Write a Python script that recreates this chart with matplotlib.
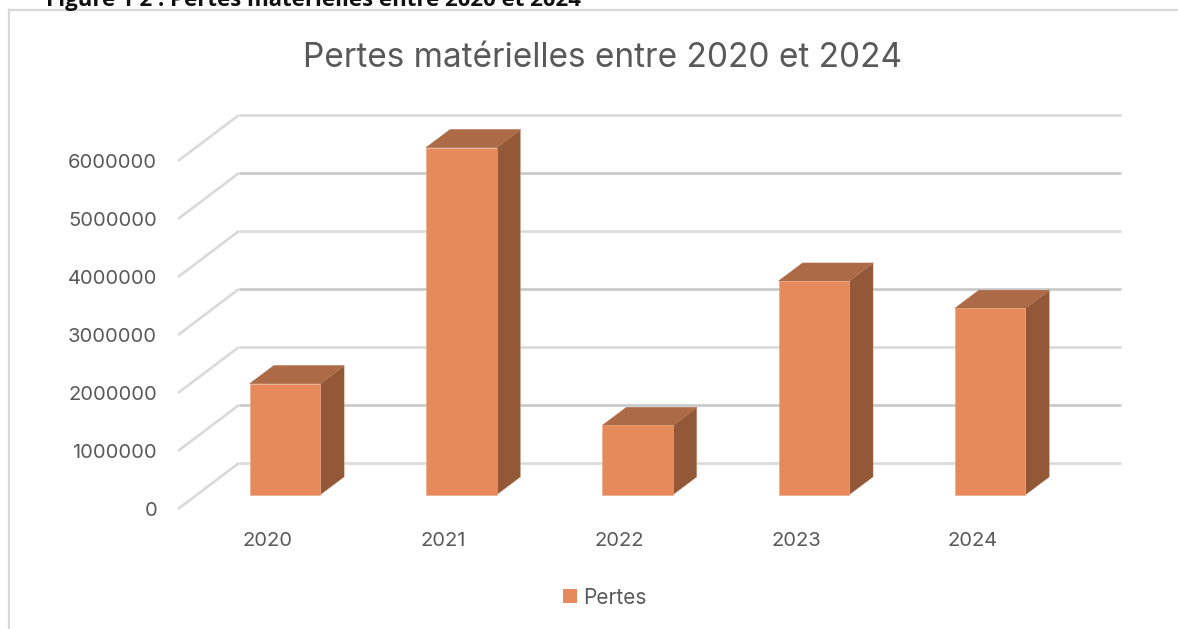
import matplotlib
matplotlib.use("Agg")
import matplotlib.pyplot as plt
from matplotlib.patches import Polygon, Rectangle
from matplotlib.lines import Line2D

W, H = 1178, 629
years = ["2020", "2021", "2022", "2023", "2024"]
pertes = [1920000, 5990000, 1200000, 3690000, 3220000]
ticks = [0, 1000000, 2000000, 3000000, 4000000, 5000000, 6000000]
tick_labels = ["0", "1000000", "2000000", "3000000", "4000000", "5000000", "6000000"]
gold = "#E68A5C"
top_c = "#AD6A47"
side_c = "#925838"
text_c = "#595959"

plt.rcParams["font.family"] = ["Inter", "DejaVu Sans"]
fig = plt.figure(figsize=(W / 100, H / 100), dpi=100)
fig.patch.set_facecolor("white")

# chart frame (top and left edges only are visible) and clipped caption
fig.add_artist(Line2D([8.5 / W, 8.5 / W], [0, 1 - 10 / H], color="#D9D9D9", lw=1.6))
fig.add_artist(Line2D([8.5 / W, 1], [1 - 10 / H, 1 - 10 / H], color="#D9D9D9", lw=1.6))
fig.text(46 / W, 1 - 6 / H, "Figure 1 2 : Pertes matérielles entre 2020 et 2024", fontsize=16,
         fontweight="bold", family=["Open Sans", "DejaVu Sans"], color="#111111", ha="left", va="baseline")

PX_X0, PX_X1, PX_Y0, PX_Y1 = 178, 1121, 509, 115
ax = fig.add_axes([PX_X0 / W, 1 - PX_Y0 / H, (PX_X1 - PX_X0) / W, (PX_Y0 - PX_Y1) / H])
PER_CAT = 176.3
PER_VAL = 58 / 1e6
x_at_178 = -(285 - PX_X0) / PER_CAT
ax.set_xlim(x_at_178, x_at_178 + (PX_X1 - PX_X0) / PER_CAT)
y_at_509 = -(PX_Y0 - 495) / PER_VAL
ax.set_ylim(y_at_509, y_at_509 + (PX_Y0 - PX_Y1) / PER_VAL)
ax.axis("off")

# depth offsets, expressed in data units
bar_w = 70.5 / PER_CAT
dx = 24 / PER_CAT
dy = 18 / PER_VAL
back_dy = 32 / PER_VAL
front_dy = -14 / PER_VAL
wall_x = x_at_178 + 61 / PER_CAT
x_end = ax.get_xlim()[1]

for i, v in enumerate(ticks):
    c = "#C8C8C8" if i % 2 == 1 else "#DADADA"
    ax.plot([x_at_178, wall_x], [v + front_dy, v + back_dy], color="#D9D9D9", lw=1.9, zorder=1,
            solid_capstyle="butt", clip_on=False)
    ax.plot([wall_x, x_end], [v + back_dy, v + back_dy], color=c, lw=1.9, zorder=1,
            solid_capstyle="butt", clip_on=False)
    ax.text(x_at_178 - 21 / PER_CAT, v + front_dy - 2 / PER_VAL, tick_labels[i], ha="right",
            va="center", fontsize=14.5, color=text_c, clip_on=False)

for i, v in enumerate(pertes):
    l, r = i - bar_w / 2, i + bar_w / 2
    ax.add_patch(Polygon([(r, 0), (r + dx, dy), (r + dx, v + dy), (r, v)], fc=side_c, ec="#D9BFB0",
                         lw=0.3, zorder=3))
    ax.add_patch(Polygon([(l, v), (l + dx, v + dy), (r + dx, v + dy), (r, v)], fc=top_c, ec=top_c,
                         lw=0.4, zorder=3))
    ax.add_patch(Rectangle((l, 0), bar_w, v, fc=gold, ec="#EAA583", lw=0.4, zorder=4))
    ax.text(i - 18 / PER_CAT, -46 / PER_VAL, years[i], ha="center", va="center", fontsize=14.5,
            color=text_c, clip_on=False)

fig.text(602 / W, 1 - 58 / H, "Pertes matérielles entre 2020 et 2024", ha="center", va="center",
         fontsize=24, color=text_c)

# legend
fig.add_artist(Rectangle((563 / W, 1 - 603 / H), 14 / W, 14 / H, transform=fig.transFigure,
                         fc=gold, ec="none"))
fig.text(583 / W, 1 - 598 / H, "Pertes", ha="left", va="center", fontsize=15, color=text_c)

fig.savefig("out.png", dpi=100)
